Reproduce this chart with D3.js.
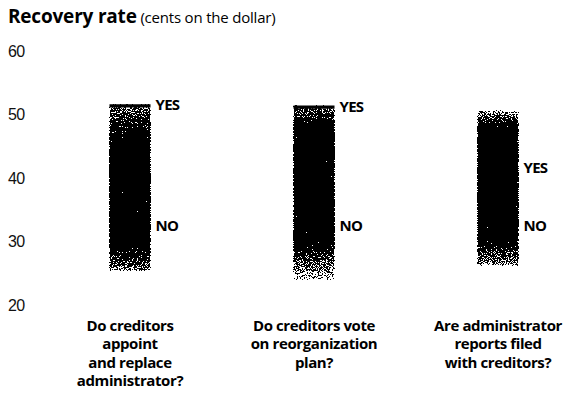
<!DOCTYPE html>
<html>
<head>
<meta charset="utf-8">
<script src="https://cdn.jsdelivr.net/npm/d3@7"></script>
<style>
  html, body { margin: 0; padding: 0; background: #fff; }
  svg { display: block; font-family: 'Open Sans', sans-serif; }
  .title { font-weight: 700; font-size: 19px; letter-spacing: -0.2px; }
  .subtitle { font-weight: 400; font-size: 15px; letter-spacing: -0.2px; }
  .axis text { font-size: 16px; fill: #111; letter-spacing: -0.6px; }
  .answer { font-weight: 700; font-size: 15px; letter-spacing: -0.7px; fill: #000; }
  .category { font-weight: 700; font-size: 15px; letter-spacing: -0.4px; fill: #000; }
</style>
</head>
<body>
<div id="chart"></div>
<script>
// data (cents on the dollar)
const categories = [
  'Do creditors\nappoint\nand replace\nadministrator?',
  'Do creditors vote\non reorganization\nplan?',
  'Are administrator\nreports filed\nwith creditors?'
];
const yesValues = [51.5, 51.3, 41.7];
const noValues = [32.5, 32.5, 32.5];
// spread of each band: outer top, start of dense core, end of dense core, outer bottom
const topValues = [51.6, 51.4, 50.6];
const coreTopValues = [45.5, 47.8, 47.6];
const coreBottomValues = [30.3, 30.8, 31.4];
const bottomValues = [25.4, 24.0, 26.2];
const capped = [true, true, false];
const tickLabels = [20, 30, 40, 50, 60];

const width = 569;
const height = 405;
const barWidth = 41;
// how dense the dots are at the outer ends of each band
const topDensity = [0.4, 0.4, 0.28];
const bottomDensity = [0.42, 0.24, 0.36];

const svg = d3.select('#chart')
  .append('svg')
    .attr('width', width)
    .attr('height', height);

const defs = svg.append('defs');

// stipple: gradient opacity + noise, thresholded to dots
const filter = defs.append('filter')
  .attr('id', 'stipple')
  .attr('x', 0).attr('y', 0).attr('width', 1).attr('height', 1)
  .attr('color-interpolation-filters', 'sRGB');
filter.append('feTurbulence')
  .attr('type', 'fractalNoise')
  .attr('baseFrequency', 1.2)
  .attr('numOctaves', 1)
  .attr('seed', 7)
  .attr('result', 'noise');
filter.append('feColorMatrix')
  .attr('in', 'noise')
  .attr('type', 'matrix')
  .attr('values', '0 0 0 0 0  0 0 0 0 0  0 0 0 0 0  1 0 0 0 0')
  .attr('result', 'na');
filter.append('feComposite')
  .attr('in', 'na').attr('in2', 'SourceGraphic')
  .attr('operator', 'arithmetic')
  .attr('k1', 0).attr('k2', 2.2).attr('k3', 1.1).attr('k4', -1.05)
  .attr('result', 'sum');
filter.append('feComponentTransfer')
  .attr('in', 'sum').attr('result', 'bin')
  .append('feFuncA').attr('type', 'discrete').attr('tableValues', '0 1');
filter.append('feComponentTransfer')
  .attr('in', 'SourceAlpha').attr('result', 'mask')
  .append('feFuncA').attr('type', 'linear').attr('slope', 100).attr('intercept', 0);
filter.append('feFlood').attr('flood-color', '#000').attr('result', 'ink');
filter.append('feComposite').attr('in', 'ink').attr('in2', 'bin').attr('operator', 'in').attr('result', 'dots');
filter.append('feComposite').attr('in', 'dots').attr('in2', 'mask').attr('operator', 'in');

// scales
const y = d3.scaleLinear().domain([20, 60]).range([305, 51]);
const x = d3.scalePoint().domain(categories).range([130, 498]);

// title
const title = svg.append('text').attr('x', 8).attr('y', 23);
title.append('tspan').attr('class', 'title').text('Recovery rate');
title.append('tspan').attr('class', 'subtitle').text(' (cents on the dollar)');

// y axis, labels only
const axisY = d3.axisLeft(y).tickValues(tickLabels).tickSize(0).tickPadding(0);
svg.append('g')
  .attr('class', 'axis')
  .attr('transform', 'translate(8, 0)')
  .call(axisY)
  .call(g => g.select('.domain').remove())
  .call(g => g.selectAll('text').attr('text-anchor', 'start').attr('x', 0));

// bands
categories.forEach((c, i) => {
  const span = topValues[i] - bottomValues[i];
  const off = v => ((topValues[i] - v) / span * 100) + '%';
  const grad = defs.append('linearGradient')
    .attr('id', `band${i}`)
    .attr('x1', 0).attr('y1', 0).attr('x2', 0).attr('y2', 1);
  [[topValues[i], topDensity[i]],
   [coreTopValues[i], 1],
   [coreBottomValues[i], 1],
   [bottomValues[i], bottomDensity[i]]].forEach(([v, o]) => {
    grad.append('stop')
      .attr('offset', off(v))
      .attr('stop-color', '#000')
      .attr('stop-opacity', o);
  });
});

const bands = svg.append('g').attr('class', 'bands');
bands.selectAll('rect')
  .data(categories)
  .join('rect')
    .attr('x', d => x(d) - barWidth / 2)
    .attr('width', barWidth)
    .attr('y', (d, i) => y(topValues[i]))
    .attr('height', (d, i) => y(bottomValues[i]) - y(topValues[i]))
    .attr('fill', (d, i) => `url(#band${i})`)
    .attr('filter', 'url(#stipple)');

// dark caps where the band tops out at YES
bands.selectAll('line')
  .data(categories.filter((d, i) => capped[i]))
  .join('line')
    .attr('x1', d => x(d) - barWidth / 2)
    .attr('x2', d => x(d) + barWidth / 2)
    .attr('y1', d => y(topValues[categories.indexOf(d)]) + 1.5)
    .attr('y2', d => y(topValues[categories.indexOf(d)]) + 1.5)
    .attr('stroke', '#000')
    .attr('stroke-width', 3.2);

// YES / NO labels
const answers = svg.append('g');
answers.selectAll('.yes')
  .data(categories)
  .join('text')
    .attr('class', 'answer yes')
    .attr('x', d => x(d) + barWidth / 2 + 5)
    .attr('y', (d, i) => y(yesValues[i]))
    .attr('dy', '0.36em')
    .text('YES');
answers.selectAll('.no')
  .data(categories)
  .join('text')
    .attr('class', 'answer no')
    .attr('x', d => x(d) + barWidth / 2 + 5)
    .attr('y', (d, i) => y(noValues[i]))
    .attr('dy', '0.36em')
    .text('NO');

// category questions
const labels = svg.append('g');
labels.selectAll('text')
  .data(categories)
  .join('text')
    .attr('class', 'category')
    .attr('text-anchor', 'middle')
    .attr('x', d => x(d))
    .attr('y', 331)
    .selectAll('tspan')
    .data(d => d.split('\n').map(line => ({ line, cx: x(d) })))
    .join('tspan')
      .attr('x', t => t.cx)
      .attr('dy', (t, j) => j === 0 ? 0 : 18.3)
      .text(t => t.line);
</script>
</body>
</html>
